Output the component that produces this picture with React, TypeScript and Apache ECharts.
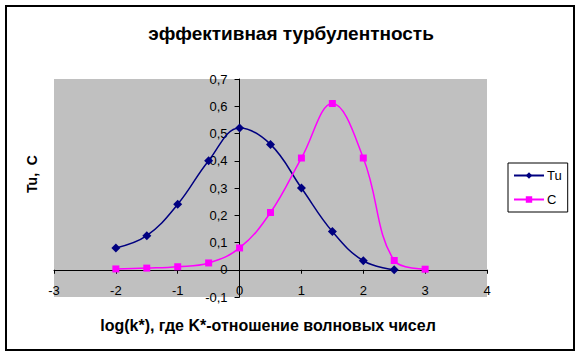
import React, { useEffect, useRef } from "react";
import * as echarts from "echarts";

const xTu = [-2, -1.5, -1, -0.5, 0, 0.5, 1, 1.5, 2, 2.5];
const tuValues = [0.08, 0.125, 0.24, 0.4, 0.52, 0.46, 0.3, 0.14, 0.033, 0.0];
const xC = [-2, -1.5, -1, -0.5, 0, 0.5, 1, 1.5, 2, 2.5, 3];
const cValues = [0.003, 0.006, 0.011, 0.025, 0.08, 0.21, 0.41, 0.61, 0.41, 0.034, 0.002];

const titleText = "эффективная турбулентность";
const xName = "log(k*), где K*-отношение волновых чисел";
const yName = "Tu,  C";
const FONT = "'Liberation Sans', Arial, sans-serif";

const GRID_LEFT = 54;
const GRID_TOP = 79;
const GRID_W = 433;
const GRID_H = 218;
const X_MIN = -3;
const X_MAX = 4;
const Y_MIN = -0.1;
const Y_MAX = 0.7;

export default function App() {
  const ref = useRef<HTMLDivElement>(null);
  useEffect(() => {
    if (!ref.current) return;
    const chart = echarts.init(ref.current, null, { renderer: "svg" });
    const fmt = (v: number) => String(+v.toFixed(1)).replace(".", ",");
    const yOffset = -((0 - X_MIN) / (X_MAX - X_MIN)) * GRID_W;
    const xOffset = -((0 - Y_MIN) / (Y_MAX - Y_MIN)) * GRID_H;
    chart.setOption({
      animation: false,
      backgroundColor: "#ffffff",
      textStyle: { fontFamily: FONT },
      title: {
        text: titleText,
        left: "center",
        top: 19,
        textStyle: { fontFamily: FONT, fontSize: 19, fontWeight: "bold", color: "#000" },
      },
      grid: {
        left: GRID_LEFT,
        top: GRID_TOP,
        width: GRID_W,
        height: GRID_H,
        show: true,
        backgroundColor: "#c0c0c0",
        borderWidth: 0,
      },
      legend: {
        orient: "vertical",
        left: 508,
        top: 163,
        width: 62,
        padding: [6, 6, 6, 5],
        itemGap: 11,
        itemWidth: 30,
        itemHeight: 8,
        backgroundColor: "#fff",
        borderColor: "#000",
        borderWidth: 1,
        borderRadius: 0,
        textStyle: { fontFamily: FONT, fontSize: 13, color: "#000", padding: [0, 0, 0, -2] },
        data: ["Tu", "C"],
      },
      xAxis: {
        type: "value",
        min: X_MIN,
        max: X_MAX,
        interval: 1,
        offset: xOffset,
        axisLine: { onZero: false, lineStyle: { color: "#000", width: 1 } },
        axisTick: { show: true, length: 4, lineStyle: { color: "#000" } },
        axisLabel: { color: "#000", fontSize: 13, fontFamily: FONT, margin: 14 },
        splitLine: { show: false },
      },
      yAxis: {
        type: "value",
        min: Y_MIN,
        max: Y_MAX,
        interval: 0.1,
        offset: yOffset,
        axisLine: { onZero: false, lineStyle: { color: "#000", width: 1 } },
        axisTick: { show: true, length: 5, lineStyle: { color: "#000" } },
        axisLabel: { color: "#000", fontSize: 13, fontFamily: FONT, margin: 12, formatter: fmt },
        splitLine: { show: false },
      },
      series: [
        {
          name: "Tu",
          type: "line",
          smooth: 0.4,
          data: xTu.map((x, i) => [x, tuValues[i]]),
          symbol: "diamond",
          symbolSize: 9,
          itemStyle: { color: "#000080" },
          lineStyle: { color: "#000080", width: 1.5 },
        },
        {
          name: "C",
          type: "line",
          smooth: 0.4,
          data: xC.map((x, i) => [x, cValues[i]]),
          symbol: "rect",
          symbolSize: 7,
          itemStyle: { color: "#ff00ff" },
          lineStyle: { color: "#ff00ff", width: 1.5 },
        },
      ],
      graphic: [
        {
          type: "rect",
          shape: { x: 6, y: 6, width: 568, height: 344 },
          style: { fill: "none", stroke: "#000", lineWidth: 2 },
          silent: true,
          z: 100,
        },
        {
          type: "text",
          x: 268,
          y: 325,
          style: {
            text: xName,
            fontFamily: FONT,
            fontSize: 16,
            fontWeight: "bold",
            fill: "#000",
            align: "center",
            verticalAlign: "middle",
          },
        },
        {
          type: "text",
          x: 32,
          y: 174,
          rotation: Math.PI / 2,
          style: {
            text: yName,
            fontFamily: FONT,
            fontSize: 14,
            fontWeight: "bold",
            fill: "#000",
            align: "center",
            verticalAlign: "middle",
          },
        },
      ],
    });
    return () => chart.dispose();
  }, []);
  return <div ref={ref} style={{ position: "absolute", left: 0, top: 0, width: 582, height: 357 }} />;
}
